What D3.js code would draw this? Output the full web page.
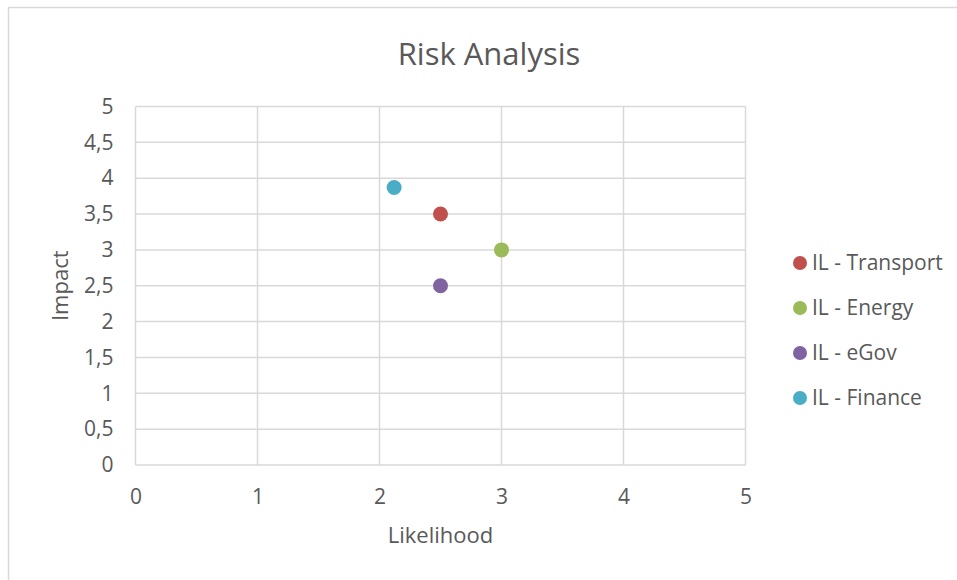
<!DOCTYPE html>
<html>
<head>
<meta charset="utf-8">
<script src="https://cdn.jsdelivr.net/npm/d3@7"></script>
<style>
  body { margin: 0; background: #fff; }
  text { font-family: "Open Sans", sans-serif; fill: #595959; }
</style>
</head>
<body>
<svg id="chart" width="957" height="580"></svg>
<script>
// Data
const seriesNames = ["IL - Transport", "IL - Energy", "IL - eGov", "IL - Finance"];
const likelihood = [2.5, 3, 2.5, 2.12];
const impact = [3.5, 3, 2.5, 3.87];
const colors = ["#C0504D", "#9BBB59", "#8064A2", "#4BACC6"];
const xTicks = [0, 1, 2, 3, 4, 5];
const yTicks = [0, 0.5, 1, 1.5, 2, 2.5, 3, 3.5, 4, 4.5, 5];

const data = seriesNames.map((name, i) => ({name, x: likelihood[i], y: impact[i], color: colors[i]}));

const svg = d3.select("#chart");

// Chart frame (runs past the picture edge like the reference)
svg.append("rect")
  .attr("x", 8.5).attr("y", 7.5)
  .attr("width", 1000).attr("height", 1000)
  .attr("fill", "#fff")
  .attr("stroke", "#d9d9d9")
  .attr("stroke-width", 1.5);

const plot = {left: 135.5, right: 745.5, top: 106.5, bottom: 465};

const x = d3.scaleLinear().domain([0, 5]).range([plot.left, plot.right]);
const y = d3.scaleLinear().domain([0, 5]).range([plot.bottom, plot.top]);

// decimal comma
const fmt = d => d3.format("")(d).replace(".", ",");

// Gridlines
svg.append("g")
  .selectAll("line")
  .data(yTicks)
  .join("line")
  .attr("x1", plot.left).attr("x2", plot.right)
  .attr("y1", d => y(d)).attr("y2", d => y(d))
  .attr("stroke", "#d9d9d9").attr("stroke-width", 1.5);

svg.append("g")
  .selectAll("line")
  .data(xTicks)
  .join("line")
  .attr("y1", plot.top).attr("y2", plot.bottom)
  .attr("x1", d => x(d)).attr("x2", d => x(d))
  .attr("stroke", "#d9d9d9").attr("stroke-width", 1.5);

// Axes (labels only)
const xAxis = svg.append("g")
  .attr("transform", `translate(0,${plot.bottom})`)
  .call(d3.axisBottom(x).tickValues(xTicks).tickFormat(fmt).tickSize(0).tickPadding(24));
xAxis.select(".domain").remove();
xAxis.selectAll("text").style("font-size", "21px").attr("fill", "#595959");

const yAxis = svg.append("g")
  .attr("transform", `translate(${plot.left},0)`)
  .call(d3.axisLeft(y).tickValues(yTicks).tickFormat(fmt).tickSize(0).tickPadding(22));
yAxis.select(".domain").remove();
yAxis.selectAll("text").style("font-size", "21px").attr("fill", "#595959");

// Points
svg.append("g")
  .selectAll("circle")
  .data(data)
  .join("circle")
  .attr("cx", d => x(d.x))
  .attr("cy", d => y(d.y))
  .attr("r", 7.5)
  .attr("fill", d => d.color);

// Title
svg.append("text")
  .attr("x", 489).attr("y", 65)
  .attr("text-anchor", "middle")
  .style("font-size", "31px")
  .text("Risk Analysis");

// Axis titles
svg.append("text")
  .attr("x", x(2.5)).attr("y", 543)
  .attr("text-anchor", "middle")
  .style("font-size", "22px")
  .text("Likelihood");

svg.append("text")
  .attr("transform", `translate(68,${(plot.top + plot.bottom) / 2}) rotate(-90)`)
  .attr("text-anchor", "middle")
  .style("font-size", "22px")
  .text("Impact");

// Legend
const legend = svg.append("g")
  .selectAll("g")
  .data(data)
  .join("g")
  .attr("transform", (d, i) => `translate(800,${263 + i * 45})`);

legend.append("circle")
  .attr("r", 7)
  .attr("fill", d => d.color);

legend.append("text")
  .attr("x", 12).attr("dy", "0.35em")
  .style("font-size", "21px")
  .text(d => d.name);
</script>
</body>
</html>
